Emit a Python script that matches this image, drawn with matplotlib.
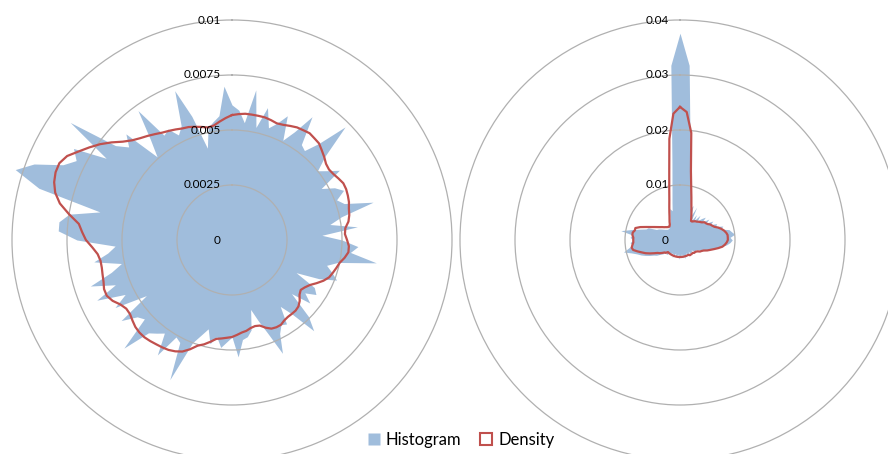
import numpy as np
import matplotlib.pyplot as plt
from matplotlib.lines import Line2D

plt.rcParams['font.family'] = ['Lato', 'DejaVu Sans']

# bin centres (degrees, clockwise from north)
bins_deg = np.arange(0, 360, 3)

# left panel: histogram and density (x 1e-3)
hist_left = np.array([
    6.14, 5.91, 5.36, 6.91, 5.23, 6.23, 5.36, 5.68, 6.18, 5.09,
    5.68, 6.68, 5.36, 5.23, 5.91, 7.27, 5.68, 5.00, 5.36, 5.82,
    4.68, 5.23, 5.55, 5.09, 5.36, 6.64, 5.09, 4.50, 5.73, 4.09,
    5.00, 5.73, 5.41, 6.64, 4.91, 4.45, 4.77, 5.09, 4.32, 3.27,
    4.32, 4.55, 4.09, 4.55, 3.64, 4.91, 5.55, 4.32, 3.73, 4.55,
    4.45, 4.77, 5.64, 4.55, 3.86, 3.27, 4.18, 4.45, 4.55, 5.32,
    4.41, 4.64, 4.91, 4.45, 4.82, 4.18, 4.55, 5.00, 6.95, 5.23,
    5.09, 6.23, 5.23, 5.45, 5.68, 6.95, 5.36, 5.55, 6.23, 4.64,
    6.14, 5.45, 6.73, 5.68, 6.77, 5.68, 5.14, 6.36, 5.68, 5.32,
    7.05, 7.91, 7.91, 7.50, 6.14, 9.09, 10.36, 9.64, 8.41, 7.95,
    8.32, 6.82, 9.09, 6.82, 6.32, 6.82, 5.09, 5.91, 7.27, 5.68,
    5.82, 5.36, 5.68, 7.27, 5.91, 4.32, 5.23, 5.45, 5.68, 7.00,
]) * 1e-3

dens_left = np.array([
    5.68, 5.73, 5.77, 5.77, 5.77, 5.77, 5.73, 5.68, 5.73, 5.82,
    5.91, 5.95, 6.00, 5.95, 5.91, 5.77, 5.64, 5.50, 5.45, 5.50,
    5.59, 5.68, 5.68, 5.64, 5.59, 5.50, 5.45, 5.36, 5.18, 5.14,
    5.23, 5.32, 5.32, 5.18, 5.00, 4.91, 4.82, 4.73, 4.55, 4.32,
    4.09, 3.95, 3.86, 3.95, 4.14, 4.27, 4.32, 4.32, 4.32, 4.36,
    4.45, 4.45, 4.41, 4.27, 4.09, 4.05, 4.09, 4.18, 4.23, 4.32,
    4.41, 4.45, 4.50, 4.55, 4.73, 4.91, 5.05, 5.32, 5.55, 5.68,
    5.77, 5.82, 5.86, 5.91, 5.95, 5.95, 5.91, 5.82, 5.73, 5.73,
    5.86, 6.09, 6.23, 6.23, 6.14, 6.09, 6.05, 6.05, 6.14, 6.36,
    6.64, 6.82, 7.00, 7.50, 8.00, 8.32, 8.50, 8.59, 8.59, 8.41,
    8.05, 7.73, 7.41, 7.05, 6.68, 6.41, 6.23, 6.09, 5.95, 5.82,
    5.73, 5.64, 5.55, 5.50, 5.41, 5.32, 5.23, 5.27, 5.41, 5.55,
]) * 1e-3

# right panel: histogram and density (x 1e-3)
hist_right = np.array([
    37.6, 31.8, 17.5, 11.6, 9.1, 7.3, 6.0, 6.7, 4.7, 6.7,
    4.0, 5.5, 4.4, 5.8, 4.7, 5.5, 6.2, 5.1, 6.5, 5.6,
    6.9, 6.2, 7.3, 6.9, 8.2, 7.6, 9.1, 9.5, 10.0, 9.1,
    9.5, 9.1, 8.5, 7.6, 6.9, 6.2, 5.5, 5.1, 4.5, 4.0,
    3.6, 3.3, 3.6, 3.1, 2.7, 3.3, 2.9, 3.5, 2.5, 3.3,
    2.7, 3.1, 2.5, 3.3, 2.9, 3.5, 2.7, 3.3, 2.5, 3.1,
    2.9, 3.5, 2.5, 3.1, 2.7, 3.3, 2.5, 2.9, 3.5, 2.7,
    3.1, 2.7, 3.3, 2.9, 3.5, 3.6, 3.3, 4.0, 4.4, 5.1,
    5.5, 6.2, 6.9, 7.6, 8.2, 9.1, 10.5, 9.5, 8.7, 9.1,
    8.5, 9.1, 8.7, 10.9, 9.1, 7.6, 6.5, 6.2, 4.7, 4.4,
    4.0, 3.6, 3.3, 3.1, 2.9, 3.1, 2.9, 3.1, 3.3, 3.3,
    3.6, 4.0, 4.4, 5.1, 6.0, 5.5, 7.0, 9.3, 14.0, 31.8,
]) * 1e-3

dens_right = np.array([
    24.2, 23.3, 19.6, 12.7, 9.8, 8.0, 6.7, 5.8, 5.1, 4.5,
    4.0, 4.0, 4.2, 4.4, 4.5, 4.7, 4.9, 5.1, 5.5, 5.6,
    5.8, 6.2, 6.4, 6.7, 7.3, 7.8, 8.2, 8.5, 8.7, 8.7,
    8.7, 8.5, 8.2, 7.8, 7.1, 6.4, 5.8, 5.3, 4.7, 4.4,
    4.2, 3.8, 3.6, 3.5, 3.5, 3.3, 3.3, 3.3, 3.3, 3.3,
    3.1, 3.1, 3.1, 3.1, 3.1, 3.1, 3.1, 3.1, 3.1, 3.1,
    3.1, 3.1, 3.1, 3.1, 3.1, 3.1, 3.1, 3.1, 3.1, 3.1,
    3.1, 3.1, 3.1, 3.1, 3.1, 3.1, 3.5, 3.6, 4.0, 4.4,
    4.7, 5.3, 6.0, 6.7, 7.3, 8.0, 8.7, 8.9, 8.7, 8.5,
    8.5, 8.5, 8.7, 8.7, 8.4, 8.4, 7.6, 6.6, 5.8, 5.2,
    4.7, 4.3, 4.0, 3.7, 3.5, 3.3, 3.2, 3.1, 3.2, 3.4,
    3.8, 4.2, 4.7, 5.4, 6.3, 7.5, 9.4, 12.5, 18.5, 23.0,
]) * 1e-3

ticks_left = [0, 0.0025, 0.005, 0.0075, 0.01]
labels_left = ['0', '0.0025', '0.005', '0.0075', '0.01']
ticks_right = [0, 0.01, 0.02, 0.03, 0.04]
labels_right = ['0', '0.01', '0.02', '0.03', '0.04']

BLUE = '#A0BDDC'
RED = '#C0504D'
GRID = '#B0B0B0'

fig = plt.figure(figsize=(8.88, 4.54), dpi=100)


def radar(rect, hist, dens, ticks, labels):
    ax = fig.add_axes(rect, projection='polar')
    ax.set_theta_zero_location('N')
    ax.set_theta_direction(-1)
    theta = np.deg2rad(np.append(bins_deg, 360))
    h = np.append(hist, hist[0])
    d = np.append(dens, dens[0])
    ax.fill_between(theta, 0, h, color=BLUE, lw=0, clip_on=False, zorder=1)
    ax.plot(theta, d, color=RED, lw=1.6, zorder=3, clip_on=False)
    ax.set_ylim(0, ticks[-1])
    ax.set_xticks([])
    ax.set_yticks(ticks[1:-1])
    ax.set_yticklabels([])
    ax.tick_params(length=0)
    ax.yaxis.grid(True, color=GRID, lw=0.9)
    ax.spines['polar'].set_color(GRID)
    ax.spines['polar'].set_linewidth(0.9)
    ax.set_facecolor('none')
    for t, lab in zip(ticks, labels):
        ax.annotate(lab, xy=(0, t), xytext=(-8, 0), textcoords='offset points',
                    ha='right', va='center', fontsize=8.5, color='black',
                    annotation_clip=False, zorder=4)
    return ax


radar([12 / 888, -6 / 454, 440 / 888, 440 / 454], hist_left, dens_left,
      ticks_left, labels_left)
radar([460 / 888, -6 / 454, 440 / 888, 440 / 454], hist_right, dens_right,
      ticks_right, labels_right)

handles = [
    Line2D([], [], marker='s', ls='', ms=8, mfc=BLUE, mec='none'),
    Line2D([], [], marker='s', ls='', ms=8, mfc='white', mec=RED, mew=1.5),
]
fig.legend(handles, ['Histogram', 'Density'], loc='center',
           bbox_to_anchor=(0.518, 0.031), ncol=2, frameon=False, fontsize=12,
           handletextpad=0.2, columnspacing=1.0, handlelength=1.0)

fig.savefig('out.png', dpi=100)
